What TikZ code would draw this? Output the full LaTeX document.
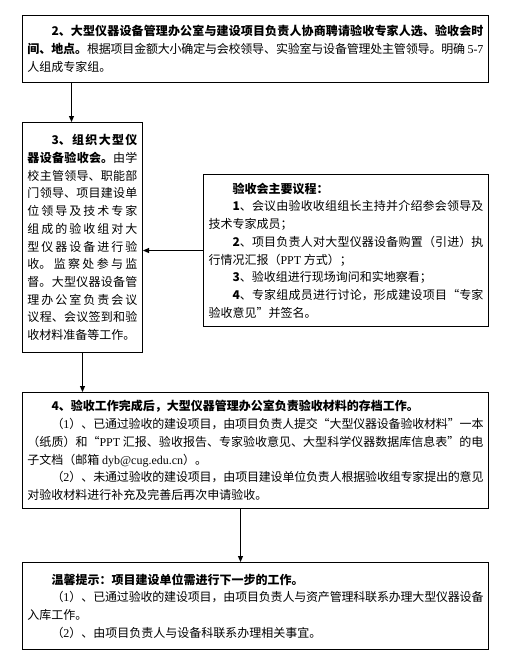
\documentclass[tikz,border=0pt]{standalone}
\usepackage{fontspec}
\setmainfont{Noto Sans CJK SC}
\newfontfamily\lat{Liberation Serif}
\usetikzlibrary{arrows.meta}
\XeTeXlinebreaklocale "zh"
\XeTeXlinebreakskip=0pt plus 1pt minus 0.4pt

\tikzset{every picture/.style={line width=0.75pt}}
\tikzset{
  stepbox/.style={draw, anchor=north west, inner xsep=3.75pt, inner ysep=0pt, align=justify, font=\fontsize{9}{13.3}\selectfont},
  arr/.style={-{Triangle[length=4.5pt,width=3.75pt]}},
}

\begin{document}
\begin{tikzpicture}[x=0.75pt,y=0.75pt,yscale=-1,xscale=1]
\useasboundingbox (0,0) rectangle (507,668);

% Boxes
\node [stepbox, text width=342pt, minimum height=50.25pt] (meet) at (22,15) {\hspace*{2em}\textbf{2、大型仪器设备管理办公室与建设项目负责人协商聘请验收专家人选、验收会时\linebreak 间、地点。}根据项目金额大小确定与会校领导、实验室与设备管理处主管领导。明确 {\lat 5-7}\linebreak 人组成专家组。};

\node [stepbox, text width=82.5pt, minimum height=172.5pt] (organise) at (22,122) {\hspace*{2em}\textbf{3、组织大型仪\linebreak 器设备验收会。}由学\linebreak 校主管领导、职能部\linebreak 门领导、项目建设单\linebreak 位领导及技术专家\linebreak 组成的验收组对大\linebreak 型仪器设备进行验\linebreak 收。监察处参与监\linebreak 督。大型仪器设备管\linebreak 理办公室负责会议\linebreak 议程、会议签到和验\linebreak 收材料准备等工作。};

\node [stepbox, text width=206.25pt, minimum height=114pt] (agenda) at (203,174) {\hspace*{2em}\textbf{验收会主要议程：}\par\hspace*{2em}\textbf{1}、会议由验收收组组长主持并介绍参会领导及\linebreak 技术专家成员；\par\hspace*{2em}\textbf{2}、项目负责人对大型仪器设备购置（引进）执\linebreak 行情况汇报（{\lat PPT} 方式）；\par\hspace*{2em}\textbf{3}、验收组进行现场询问和实地察看；\par\hspace*{2em}\textbf{4}、专家组成员进行讨论，形成建设项目“专家\linebreak 验收意见”并签名。};

\node [stepbox, text width=342pt, minimum height=87pt] (archive) at (22,392) {\hspace*{2em}\textbf{4、验收工作完成后，大型仪器管理办公室负责验收材料的存档工作。}\par\hspace*{2em}（{\lat 1}）、已通过验收的建设项目，由项目负责人提交“大型仪器设备验收材料”一本\linebreak （纸质）和“{\lat PPT} 汇报、验收报告、专家验收意见、大型科学仪器数据库信息表”的电\linebreak 子文档（邮箱 {\lat dyb@cug.edu.cn}）。\par\hspace*{2em}（{\lat 2}）、未通过验收的建设项目，由项目建设单位负责人根据验收组专家提出的意见\linebreak 对验收材料进行补充及完善后再次申请验收。};

\node [stepbox, text width=342pt, minimum height=65.25pt] (notice) at (22,562) {\hspace*{2em}\textbf{温馨提示：项目建设单位需进行下一步的工作。}\par\hspace*{2em}（{\lat 1}）、已通过验收的建设项目，由项目负责人与资产管理科联系办理大型仪器设备\linebreak 入库工作。\par\hspace*{2em}（{\lat 2}）、由项目负责人与设备科联系办理相关事宜。};

% Connectors
\draw [arr] ([xshift=-8.25pt]organise.north |- meet.south) -- ([xshift=-8.25pt]organise.north);
\draw [arr] (agenda.west) -- (agenda.west -| organise.east);
\draw [arr] (organise.south) -- (organise.south |- archive.north);
\draw [arr] ([xshift=-11.25pt]archive.south) -- ([xshift=-11.25pt]archive.south |- notice.north);

\end{tikzpicture}
\end{document}
